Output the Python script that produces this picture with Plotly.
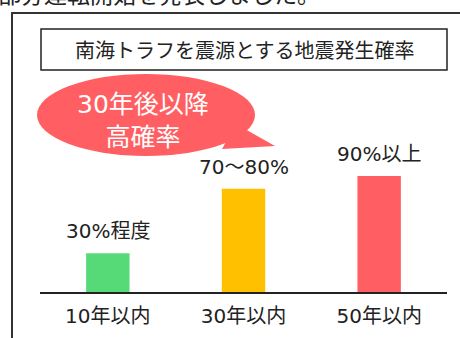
import plotly.graph_objects as go

# Probability of a Nankai Trough earthquake by time horizon
periods = ["10年以内", "30年以内", "50年以内"]
probability = [30, 80, 90]
value_labels = ["30%程度", "70〜80%", "90%以上"]
bar_colors = ["#56DA78", "#FFC000", "#FF5F62"]

title_text = "南海トラフを震源とする地震発生確率"
bubble_lines = ["30年後以降", "高確率"]
header_text = "部分運転開始を発表しました。"

W, H = 460, 338
FONT = "DejaVu Sans, Noto Sans CJK JP, sans-serif"
CJK = "Noto Sans CJK JP, sans-serif"


def px(x):
    return x / W


def py(y):
    return 1 - y / H


fig = go.Figure(
    go.Bar(
        x=periods,
        y=probability,
        marker=dict(color=bar_colors, line=dict(width=0)),
        width=0.32,
        hoverinfo="skip",
    )
)

# value labels above bars
for cat, val, lab in zip(periods, probability, value_labels):
    fig.add_annotation(
        x=cat, y=val, xref="x", yref="y", text=lab, showarrow=False,
        yanchor="middle", yshift=22,
        font=dict(family=FONT, size=20, color="#222222"),
    )

shapes = [
    # outer frame
    dict(type="rect", xref="paper", yref="paper",
         x0=px(12), x1=px(480), y0=py(13), y1=py(360),
         line=dict(color="#333333", width=2), fillcolor="rgba(0,0,0,0)", layer="below"),
    # title box
    dict(type="rect", xref="paper", yref="paper",
         x0=px(41), x1=px(447), y0=py(29), y1=py(70),
         line=dict(color="#222222", width=1.5), fillcolor="white"),
    # speech bubble body
    dict(type="circle", xref="paper", yref="paper",
         x0=px(37), x1=px(255), y0=py(74), y1=py(156),
         line=dict(width=0), fillcolor="#FF5F62"),
    # speech bubble tail
    dict(type="path", xref="paper", yref="paper",
         path=f"M {px(236)},{py(124)} L {px(275)},{py(146)} L {px(222)},{py(149)} Z",
         line=dict(width=0), fillcolor="#FF5F62"),
]

annotations = [
    dict(x=px(244), y=py(50), xref="paper", yref="paper", text=title_text,
         showarrow=False, xanchor="center", yanchor="middle",
         font=dict(family=CJK, size=20, color="#222222")),
    dict(x=px(143), y=py(121), xref="paper", yref="paper",
         text="<br>".join(bubble_lines), align="center",
         showarrow=False, xanchor="center", yanchor="middle", borderpad=0,
         font=dict(family=FONT, size=25, color="white")),
    dict(x=px(-4), y=py(12), xref="paper", yref="paper", text=header_text,
         showarrow=False, xanchor="left", yanchor="bottom",
         font=dict(family=CJK, size=23, color="#222222")),
]
for a in annotations:
    fig.add_annotation(**a)

fig.update_layout(
    width=W, height=H,
    margin=dict(l=0, r=0, t=0, b=0),
    paper_bgcolor="white", plot_bgcolor="white",
    showlegend=False,
    shapes=shapes,
    xaxis=dict(
        domain=[px(40), px(447)], range=[-0.5, 2.5],
        showline=True, linecolor="#222222", linewidth=2,
        showgrid=False, zeroline=False,
        ticks="outside", ticklen=5, tickcolor="rgba(0,0,0,0)",
        tickfont=dict(family=FONT, size=20, color="#222222"),
    ),
    yaxis=dict(
        domain=[1 - 292 / H, 1 - 163 / H], range=[0, 100],
        visible=False, showgrid=False, zeroline=False,
    ),
)

fig.write_html("out.html")
